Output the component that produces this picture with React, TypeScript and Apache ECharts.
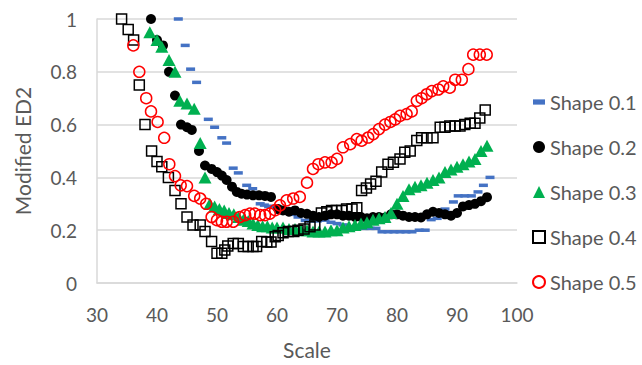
import React, { useEffect, useRef } from "react";
import * as echarts from "echarts";

const xTicks = [30, 40, 50, 60, 70, 80, 90, 100];
const yTicks = [0, 0.2, 0.4, 0.6, 0.8, 1];

const shape01: [number, number][] = [
  [43.55, 1.0], [44.7, 0.9], [45.6, 0.81], [46.6, 0.76], [48.55, 0.62], [49.6, 0.59],
  [50.8, 0.55], [51.6, 0.53], [52.7, 0.435], [53.55, 0.417], [54.95, 0.37], [55.95, 0.357],
  [57.2, 0.3], [57.9, 0.295], [58.6, 0.29], [59.4, 0.29], [60.5, 0.28], [61.5, 0.27],
  [62.5, 0.26], [63.5, 0.25], [64.7, 0.237], [65.7, 0.235], [66.7, 0.235], [68, 0.238],
  [69, 0.23], [70, 0.225], [71, 0.22], [72.5, 0.213], [73.5, 0.21], [74.5, 0.207],
  [75.5, 0.207], [76.5, 0.207], [77.5, 0.194], [78.5, 0.194], [79.5, 0.194], [80.5, 0.194],
  [81.5, 0.194], [82.5, 0.194], [83.7, 0.2], [84.7, 0.2], [85.7, 0.24], [86.7, 0.245],
  [88, 0.28], [89.4, 0.307], [90.2, 0.33], [91.3, 0.33], [92.4, 0.33], [93.5, 0.345],
  [94.4, 0.37], [95.5, 0.4],
];

const shape02: [number, number][] = [
  [39, 1.0], [40, 0.92], [41, 0.9], [42, 0.8], [43, 0.71], [44, 0.6], [45, 0.59], [45.8, 0.58],
  [47, 0.5], [48, 0.445], [49.1, 0.432], [50, 0.42], [50.8, 0.407], [51.6, 0.39], [52.5, 0.365],
  [53.3, 0.345], [54.1, 0.338], [55, 0.335], [56, 0.332], [57, 0.332], [58, 0.33], [59, 0.326],
  [60.2, 0.28], [61, 0.275], [62, 0.27], [63, 0.275], [64, 0.265], [65, 0.262], [66, 0.255],
  [67, 0.25], [68, 0.255], [69, 0.26], [70, 0.26], [71, 0.255], [72, 0.255], [73, 0.25],
  [74, 0.25], [75, 0.245], [76, 0.25], [77, 0.25], [78, 0.248], [79, 0.26], [80, 0.26],
  [81, 0.255], [82, 0.25], [83, 0.25], [84, 0.248], [85, 0.26], [86, 0.27], [87, 0.265],
  [88, 0.26], [89, 0.255], [90, 0.265], [91, 0.29], [92, 0.295], [93, 0.3], [94, 0.31], [95, 0.325],
];

const shape03: [number, number][] = [
  [38.8, 0.95], [40, 0.92], [40.8, 0.895], [42, 0.845], [43, 0.8], [43.8, 0.69], [45, 0.68],
  [46.2, 0.66], [47.2, 0.53], [48, 0.4], [48.8, 0.3], [49.6, 0.29], [50.4, 0.28], [51.2, 0.275],
  [52, 0.265], [52.8, 0.26], [53.6, 0.25], [54.4, 0.24], [55.2, 0.235], [56, 0.225], [56.8, 0.22],
  [57.6, 0.215], [58.4, 0.215], [59.2, 0.21], [60, 0.21], [61, 0.21], [62, 0.205], [63, 0.205],
  [64, 0.2], [65, 0.2], [66, 0.195], [67, 0.195], [68, 0.195], [69, 0.2], [70, 0.2], [71, 0.21],
  [72, 0.215], [73, 0.22], [74, 0.225], [75, 0.23], [76, 0.24], [77, 0.245], [78, 0.25],
  [79, 0.265], [80, 0.3], [81, 0.33], [82, 0.355], [83, 0.365], [84, 0.37], [85, 0.38],
  [86, 0.39], [87, 0.4], [88, 0.42], [89, 0.43], [90, 0.44], [91, 0.45], [92, 0.46], [93, 0.47],
  [94, 0.5], [95, 0.52],
];

const shape04: [number, number][] = [
  [34.1, 1.0], [35.2, 0.96], [36.1, 0.92], [37.05, 0.75], [38, 0.6], [39.1, 0.5], [40, 0.46],
  [40.8, 0.44], [41.9, 0.4], [43, 0.35], [44, 0.3], [45, 0.25], [46, 0.22], [47.2, 0.22],
  [48, 0.195], [49.1, 0.157], [50, 0.113], [50.8, 0.113], [51.3, 0.125], [51.8, 0.14],
  [52.7, 0.15], [53.55, 0.15], [54.4, 0.138], [55.2, 0.138], [56, 0.138], [56.6, 0.138],
  [57.45, 0.157], [58.3, 0.155], [59, 0.155], [59.7, 0.175], [60.2, 0.18], [61, 0.19],
  [61.9, 0.195], [62.8, 0.195], [63.5, 0.2], [64.5, 0.205], [65.5, 0.213], [66.3, 0.22],
  [67.4, 0.265], [68.3, 0.27], [69.1, 0.275], [69.9, 0.275], [70.8, 0.275], [71.6, 0.28],
  [72.5, 0.28], [73.3, 0.285], [74.1, 0.35], [74.9, 0.36], [75.6, 0.375], [76.5, 0.385],
  [77.45, 0.42], [78.5, 0.45], [79.4, 0.457], [80.5, 0.47], [81.3, 0.495], [82.2, 0.5],
  [83.3, 0.54], [84.1, 0.55], [85, 0.55], [86, 0.55], [87.2, 0.59], [88, 0.59], [88.8, 0.595],
  [89.7, 0.595], [90.5, 0.595], [91.3, 0.6], [92.2, 0.605], [93, 0.605], [93.8, 0.625],
  [94.7, 0.655],
];

const shape05: [number, number][] = [
  [36.05, 0.9], [37.05, 0.8], [38.2, 0.7], [39, 0.65], [40.1, 0.61], [41.2, 0.55], [42.05, 0.45],
  [43, 0.405], [43.95, 0.37], [45, 0.367], [46.2, 0.33], [47.2, 0.32], [48.2, 0.3], [49.1, 0.25],
  [50, 0.238], [50.8, 0.232], [51.6, 0.232], [52.7, 0.232], [53.8, 0.25], [54.7, 0.257],
  [55.5, 0.263], [56.3, 0.263], [57.2, 0.257], [58, 0.257], [58.8, 0.263], [59.7, 0.276],
  [60.5, 0.294], [61.6, 0.313], [62.7, 0.32], [63.8, 0.326], [65, 0.38], [66, 0.432],
  [66.9, 0.45], [68, 0.457], [69.1, 0.457], [70, 0.47], [71, 0.514], [72.2, 0.526],
  [73.3, 0.545], [74.1, 0.539], [75.2, 0.551], [76.05, 0.564], [77, 0.583], [78, 0.6],
  [78.9, 0.61], [79.7, 0.62], [80.5, 0.633], [81.6, 0.64], [82.45, 0.65], [83.3, 0.69],
  [84.1, 0.7], [84.95, 0.715], [85.8, 0.727], [86.9, 0.733], [87.7, 0.745], [88.8, 0.74],
  [89.7, 0.77], [90.8, 0.77], [91.9, 0.81], [92.7, 0.865], [93.8, 0.865], [94.95, 0.865],
];

const seriesNames = ["Shape 0.1", "Shape 0.2", "Shape 0.3", "Shape 0.4", "Shape 0.5"];

const FONT = "Lato, 'Open Sans', sans-serif";
const TEXT = "#595959";

export default function App() {
  const ref = useRef<HTMLDivElement>(null);
  useEffect(() => {
    document.body.style.margin = "0";
    const chart = echarts.init(ref.current!, null, { renderer: "svg" });
    chart.setOption({
      animation: false,
      backgroundColor: "#ffffff",
      textStyle: { fontFamily: FONT },
      grid: { left: 97, right: 125, top: 19, bottom: 80 },
      xAxis: {
        type: "value",
        min: xTicks[0],
        max: xTicks[xTicks.length - 1],
        interval: 10,
        name: "Scale",
        nameLocation: "middle",
        nameGap: 56,
        nameTextStyle: { color: TEXT, fontSize: 21, fontFamily: FONT },
        axisLine: { show: true, lineStyle: { color: "#D9D9D9", width: 1.5 } },
        axisTick: { show: false },
        splitLine: { show: false },
        axisLabel: { color: TEXT, fontSize: 19, margin: 22, fontFamily: FONT },
      },
      yAxis: {
        type: "value",
        min: yTicks[0],
        max: yTicks[yTicks.length - 1],
        interval: 0.2,
        name: "Modified ED2",
        nameLocation: "middle",
        nameGap: 64,
        nameTextStyle: { color: TEXT, fontSize: 21, fontFamily: FONT },
        axisLine: { show: true, lineStyle: { color: "#D9D9D9", width: 1.5 } },
        axisTick: { show: false },
        splitLine: { show: true, lineStyle: { color: "#D9D9D9", width: 1.5 } },
        axisLabel: { color: TEXT, fontSize: 19, margin: 20, fontFamily: FONT },
      },
      legend: {
        orient: "vertical",
        left: 527,
        top: 87,
        itemWidth: 12,
        itemHeight: 12,
        itemGap: 25,
        textStyle: { color: TEXT, fontSize: 20, lineHeight: 20, fontFamily: FONT },
        data: [
          { name: seriesNames[0], icon: "path://M0,0L8,0L8,3.5L0,3.5Z" },
          { name: seriesNames[1], icon: "circle" },
          { name: seriesNames[2], icon: "triangle" },
          { name: seriesNames[3], icon: "rect" },
          { name: seriesNames[4], icon: "circle" },
        ],
      },
      series: [
        {
          name: seriesNames[0],
          type: "scatter",
          data: shape01,
          symbol: "rect",
          symbolSize: [9, 3.5],
          itemStyle: { color: "#4472C4", opacity: 1 },
        },
        {
          name: seriesNames[1],
          type: "scatter",
          data: shape02,
          symbol: "circle",
          symbolSize: 10,
          itemStyle: { color: "#000000", opacity: 1 },
        },
        {
          name: seriesNames[2],
          type: "scatter",
          data: shape03,
          symbol: "triangle",
          symbolSize: [13, 12],
          itemStyle: { color: "#00B050", opacity: 1 },
        },
        {
          name: seriesNames[3],
          type: "scatter",
          data: shape04,
          symbol: "rect",
          symbolSize: 10,
          itemStyle: { color: "rgba(255,255,255,0)", borderColor: "#000000", borderWidth: 1.5, opacity: 1 },
        },
        {
          name: seriesNames[4],
          type: "scatter",
          data: shape05,
          symbol: "circle",
          symbolSize: 11,
          itemStyle: { color: "rgba(255,255,255,0)", borderColor: "#FF0000", borderWidth: 1.5, opacity: 1 },
        },
      ],
    });
    return () => chart.dispose();
  }, []);
  return <div ref={ref} style={{ width: 642, height: 365 }} />;
}
